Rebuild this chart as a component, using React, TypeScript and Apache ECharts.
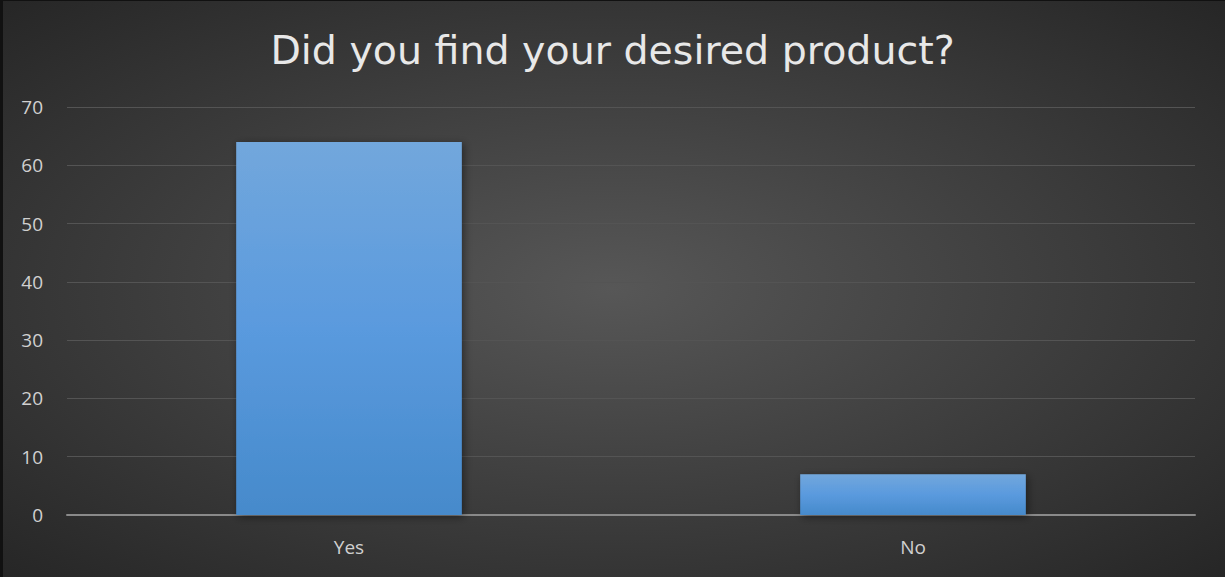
import React, { useEffect, useRef } from "react";
import * as echarts from "echarts";

const categories = ["Yes", "No"];
const values = [64, 7];
const yTicks = { min: 0, max: 70, interval: 10 };
const titleText = "Did you find your desired product?";

export default function App() {
  const ref = useRef<HTMLDivElement>(null);
  useEffect(() => {
    document.body.style.margin = "0";
    const chart = echarts.init(ref.current!, null, { renderer: "svg" });
    chart.setOption({
      animation: false,
      backgroundColor: {
        type: "radial",
        x: 0.5,
        y: 0.5,
        r: 0.75,
        colorStops: [
          { offset: 0, color: "#575757" },
          { offset: 1, color: "#232323" },
        ],
      },
      graphic: [
        { type: "rect", left: 0, top: 0, shape: { width: 3, height: 577 }, style: { fill: "#111111" }, silent: true },
        { type: "rect", left: 0, top: 0, shape: { width: 1225, height: 1 }, style: { fill: "#111111" }, silent: true },
      ],
      title: {
        text: titleText,
        left: "center",
        top: 25,
        textStyle: {
          color: "#e8e8e8",
          fontFamily: "DejaVu Sans",
          fontWeight: "normal",
          fontSize: 39.5,
        },
      },
      grid: { left: 67, right: 30, top: 107, bottom: 62, containLabel: false },
      xAxis: {
        type: "category",
        data: categories,
        axisLine: { lineStyle: { color: "#8a8a8a", width: 2 } },
        axisTick: { show: false },
        axisLabel: {
          color: "#d0d0d0",
          fontSize: 19,
          fontFamily: "Open Sans",
          margin: 22,
        },
      },
      yAxis: {
        type: "value",
        min: yTicks.min,
        max: yTicks.max,
        interval: yTicks.interval,
        axisLine: { show: false },
        axisTick: { show: false },
        splitLine: { lineStyle: { color: "#545454", width: 1 } },
        axisLabel: {
          color: "#d0d0d0",
          fontSize: 19,
          fontFamily: "Open Sans",
          margin: 24,
        },
      },
      series: [
        {
          type: "bar",
          data: values,
          barWidth: "40%",
          itemStyle: {
            color: {
              type: "linear",
              x: 0,
              y: 0,
              x2: 0,
              y2: 1,
              colorStops: [
                { offset: 0, color: "#72a7dc" },
                { offset: 0.5, color: "#5a9ade" },
                { offset: 1, color: "#468acb" },
              ],
            },
            shadowColor: "rgba(0,0,0,0.45)",
            shadowBlur: 8,
            shadowOffsetX: 2,
            shadowOffsetY: 2,
          },
        },
      ],
    });
    return () => chart.dispose();
  }, []);
  return <div ref={ref} style={{ width: 1225, height: 577 }} />;
}
